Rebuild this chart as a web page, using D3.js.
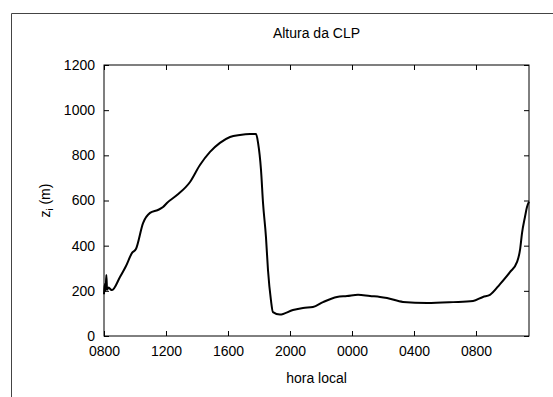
<!DOCTYPE html>
<html>
<head>
<meta charset="utf-8">
<script src="https://cdn.jsdelivr.net/npm/d3@7"></script>
<style>
  body { margin: 0; background: #fff; }
  text { font-family: "Liberation Sans", Arial, sans-serif; fill: #000; }
</style>
</head>
<body>
<div id="chart"></div>
<script>
var WIDTH = 553, HEIGHT = 397;
var margin = {top: 65, right: 24, bottom: 61, left: 104};

// hora local em horas decimais (dia 2 continua acima de 24)
var hours = [8.00, 8.05, 8.10, 8.15, 8.20, 8.30, 8.45, 8.52, 9.03, 9.42, 9.81, 10.06, 10.52, 10.97,
  11.48, 11.81, 12.06, 12.71, 13.55, 14.19, 14.84, 15.48, 16.13, 16.77, 17.42, 17.81, 17.94,
  18.13, 18.26, 18.45, 18.58, 18.77, 18.90, 19.35, 20.19, 20.84, 21.48, 22.13, 23.03, 23.68,
  24.39, 25.16, 25.81, 26.26, 27.29, 28.84, 30.52, 31.81, 32.45, 32.90, 33.55, 34.19, 34.65,
  34.84, 34.97, 35.16, 35.29, 35.42];
var zi = [185, 230, 200, 270, 205, 215, 205, 204, 261, 310, 368, 385, 500, 545,
  558, 571, 589, 624, 682, 757, 815, 855, 881, 890, 894, 894, 855,
  735, 589, 438, 292, 159, 106, 95, 115, 124, 128, 150, 173, 177,
  183, 177, 173, 168, 151, 146, 150, 155, 173, 182, 230, 283, 328,
  381, 456, 527, 571, 595];

var xTicks = [8, 12, 16, 20, 24, 28, 32];
var xTickLabels = ["0800", "1200", "1600", "2000", "0000", "0400", "0800"];
var yTicks = [0, 200, 400, 600, 800, 1000, 1200];

var w = WIDTH - margin.left - margin.right;
var h = HEIGHT - margin.top - margin.bottom;

var svg = d3.select("#chart").append("svg")
  .attr("width", WIDTH)
  .attr("height", HEIGHT);

// moldura externa
svg.append("path")
  .attr("d", "M11.5," + HEIGHT + "V13.5H" + WIDTH)
  .attr("fill", "none")
  .attr("stroke", "#444")
  .attr("stroke-width", 1);

var g = svg.append("g")
  .attr("transform", "translate(" + margin.left + "," + margin.top + ")");

var x = d3.scaleLinear().domain([8, 35.42]).range([0, w]);
var y = d3.scaleLinear().domain([0, 1200]).range([h, 0]);

var fmt = function(d) { return xTickLabels[xTicks.indexOf(d)]; };

g.append("g")
  .attr("transform", "translate(0," + h + ")")
  .call(d3.axisBottom(x).tickValues(xTicks).tickFormat(fmt).tickSizeInner(-5).tickSizeOuter(0).tickPadding(10))
  .call(g => g.select(".domain").remove())
  .call(g => g.selectAll("text").attr("font-size", 14).attr("font-family", null));

g.append("g")
  .call(d3.axisTop(x).tickValues(xTicks).tickFormat("").tickSizeInner(-5).tickSizeOuter(0))
  .call(g => g.select(".domain").remove());

g.append("g")
  .call(d3.axisLeft(y).tickValues(yTicks).tickFormat(d3.format("d")).tickSizeInner(-5).tickSizeOuter(0).tickPadding(9))
  .call(g => g.select(".domain").remove())
  .call(g => g.selectAll("text").attr("font-size", 14).attr("font-family", null));

g.append("g")
  .attr("transform", "translate(" + w + ",0)")
  .call(d3.axisRight(y).tickValues(yTicks).tickFormat("").tickSizeInner(-5).tickSizeOuter(0))
  .call(g => g.select(".domain").remove());

g.selectAll(".tick line").attr("stroke", "#000");

g.append("rect")
  .attr("width", w)
  .attr("height", h)
  .attr("fill", "none")
  .attr("stroke", "#000")
  .attr("stroke-width", 1);

var line = d3.line()
  .x(function(d, i) { return x(hours[i]); })
  .y(function(d) { return y(d); })
  .curve(d3.curveMonotoneX);

g.append("path")
  .attr("d", line(zi))
  .attr("fill", "none")
  .attr("stroke", "#000")
  .attr("stroke-width", 2)
  .attr("stroke-linejoin", "round");

svg.append("text")
  .attr("x", margin.left + w / 2)
  .attr("y", 38)
  .attr("text-anchor", "middle")
  .attr("font-size", 14)
  .text("Altura da CLP");

svg.append("text")
  .attr("x", margin.left + w / 2)
  .attr("y", 383)
  .attr("text-anchor", "middle")
  .attr("font-size", 14)
  .text("hora local");

var yl = svg.append("text")
  .attr("transform", "translate(50," + (margin.top + h / 2) + ") rotate(-90)")
  .attr("text-anchor", "middle")
  .attr("font-size", 14);
yl.append("tspan").text("z");
yl.append("tspan").attr("font-size", 9).attr("dy", 3).text("i");
yl.append("tspan").attr("dy", -3).text(" (m)");
</script>
</body>
</html>
